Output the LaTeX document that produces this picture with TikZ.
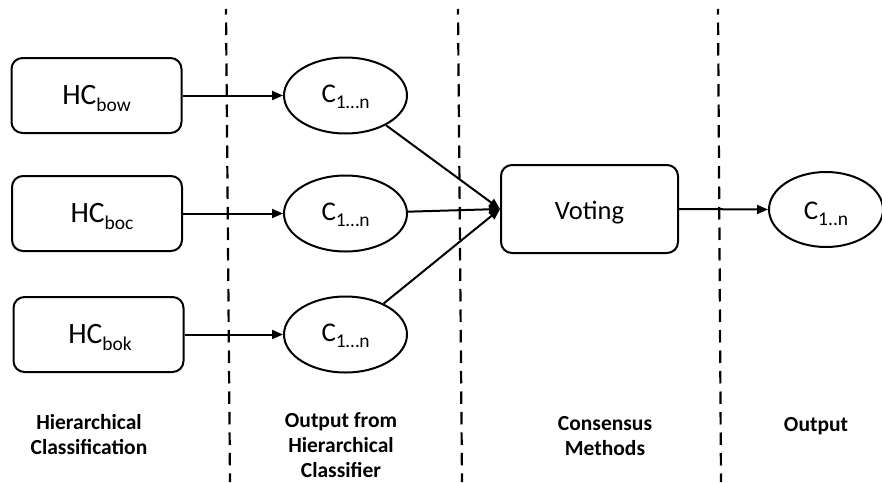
\documentclass[tikz,border=0pt]{standalone}
\usepackage{fontspec}
\setmainfont{Carlito}
\usetikzlibrary{shapes.geometric,arrows.meta}
% lowered, smaller index text
\newcommand\lowsub[2]{\raisebox{-#1}{\fontsize{19.5}{20}\selectfont #2}}
\begin{document}
\begin{tikzpicture}[x=1pt,y=-1pt,
  stage/.style={draw, line width=2pt, rounded corners=11pt, inner sep=0pt,
    minimum width=170pt, minimum height=75pt, font=\fontsize{29.5}{30}\selectfont,
    text height=20pt, text depth=2pt},
  outcls/.style={draw, ellipse, line width=2pt, inner sep=0pt,
    minimum width=123pt, minimum height=76pt, font=\fontsize{27}{28}\selectfont,
    text height=18pt, text depth=4pt},
  link/.style={line width=2pt, -{Triangle[length=11pt,width=9pt]}},
  divider/.style={line width=2.2pt, dash pattern=on 12.5pt off 8pt, dash phase=7pt},
  caption/.style={font=\fontsize{21.5}{25}\selectfont\bfseries, align=center, inner sep=0pt, anchor=base}
]
\useasboundingbox (0,0) rectangle (882,482);

% phase dividers
\draw[divider] (226,9) -- (230,482);
\draw[divider] (458,9) -- (462,482);
\draw[divider] (718,9) -- (721,482);

% hierarchical classifiers
\node[stage] (bow) at (96.5,95.5) {HC\lowsub{7pt}{bow}};
\node[stage] (boc) at (97,213.5) {\hspace{10pt}HC\lowsub{7pt}{boc}};
\node[stage] (bok) at (98.5,334.5) {\hspace{3pt}HC\lowsub{7pt}{bok}};

% classifier outputs
\node[outcls] (c1) at (345.5,95.5) {C\lowsub{6pt}{1…n}};
\node[outcls] (c2) at (345.5,213.5) {C\lowsub{6pt}{1…n}};
\node[outcls] (c3) at (345.5,334.5) {C\lowsub{6pt}{1…n}};

% consensus
\node[stage, minimum width=177pt, minimum height=88pt, font=\fontsize{26.5}{27}\selectfont,
  text height=20pt, text depth=0pt] (vote) at (589.5,209) {Voting};

% final output
\node[outcls, minimum width=114pt, minimum height=75pt, text height=19pt, text depth=0pt]
  (out) at (826,209.5) {C\lowsub{6pt}{1..n}};

% connectors
\draw[link] (bow.east) -- (c1.west);
\draw[link] (boc.east) -- (c2.west);
\draw[link] (bok.east) -- (c3.west);
\draw[link] (c1) -- (vote.west);
\draw[link] (c2) -- (vote.west);
\draw[link] (c3) -- (vote.west);
\draw[link] (vote.east) -- (out.west);

% phase captions (anchored on the baseline of the last line)
\node[caption] (cap1) at (89,454) {Hierarchical\\Classification};
\node[caption] (cap2) at (341,477) {Output from\\Hierarchical\\Classifier};
\node[caption] (cap3) at (605,455) {Consensus\\Methods};
\node[caption] (cap4) at (816,431) {Output};
\end{tikzpicture}
\end{document}
